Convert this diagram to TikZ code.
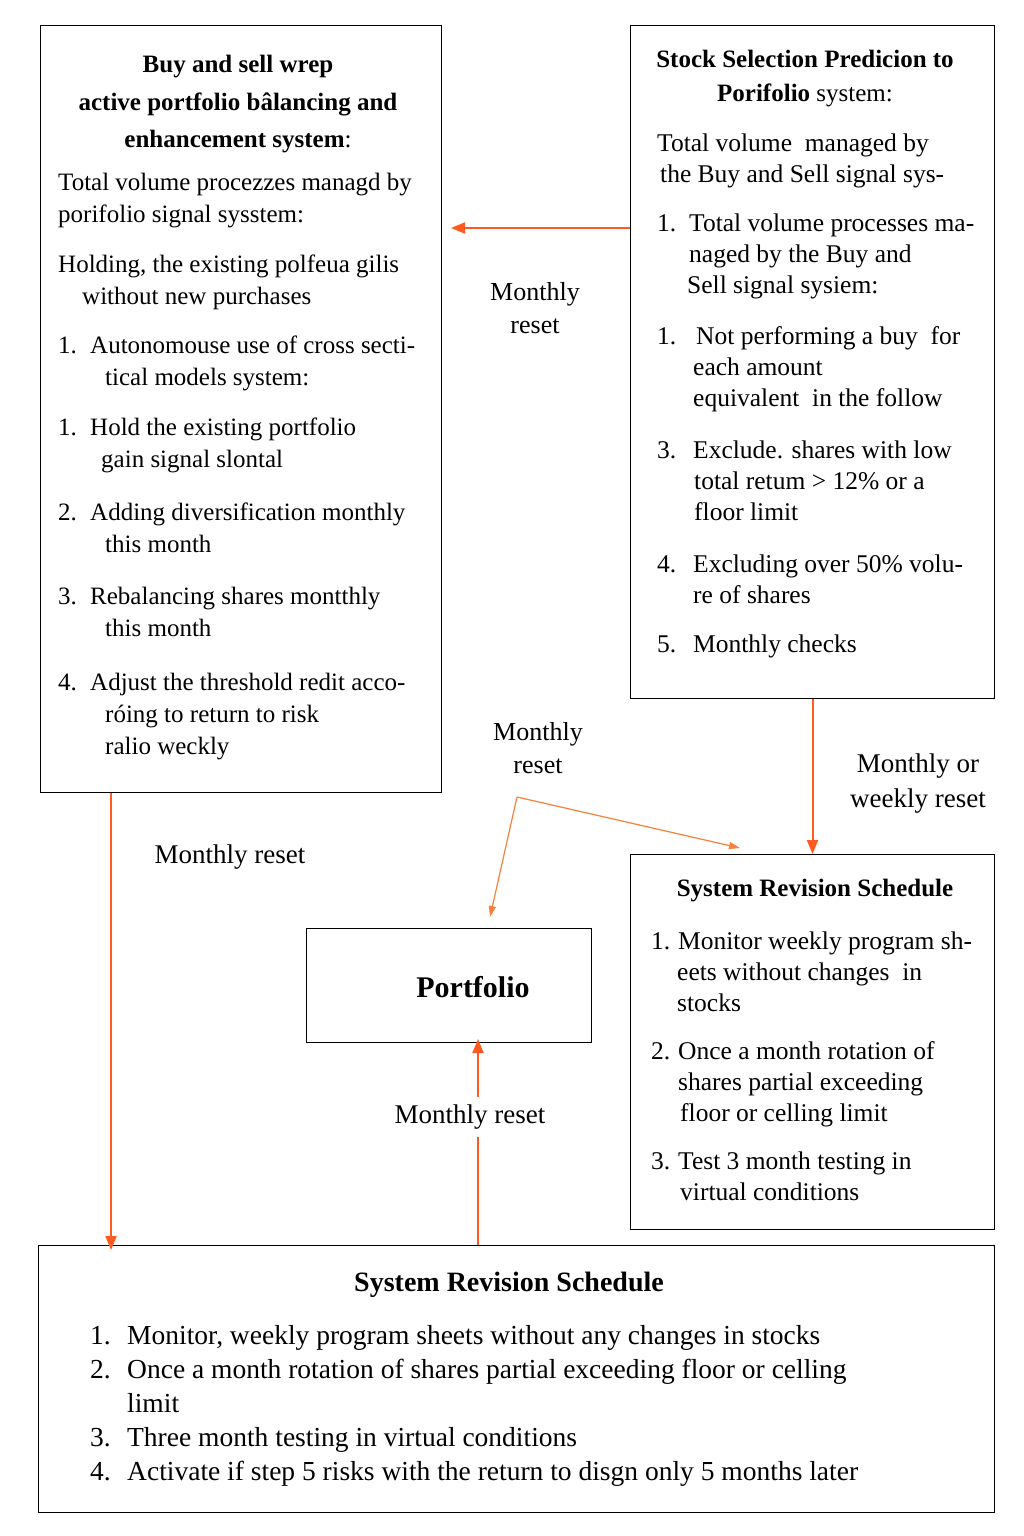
\documentclass[tikz,border=0pt]{standalone}
\usepackage{fontspec}
\setmainfont{Liberation Serif}
\usetikzlibrary{arrows.meta,positioning,calc}

\definecolor{flowred}{HTML}{FF5A1F}
\definecolor{floworange}{HTML}{F7803A}

\newcommand{\lnum}[2][32pt]{\makebox[#1][l]{#2}}
\newcommand{\hang}[1][32pt]{\hspace*{#1}}

\tikzset{
  box/.style={draw, line width=1pt, inner sep=0pt, anchor=north west},
  body/.style={anchor=north west, align=left, inner sep=0pt, font=\fontsize{25}{32}\selectfont},
  head/.style={anchor=north, align=center, inner sep=0pt, font=\bfseries\fontsize{25}{37.5}\selectfont},
  lbl/.style={align=center, inner sep=1pt, font=\fontsize{26}{33}\selectfont},
  flow/.style={draw=flowred, line width=2pt, -{Triangle[length=14pt,width=11pt]}},
  thinflow/.style={draw=floworange, line width=1.2pt, -{Triangle[length=11pt,width=7pt]}}
}

\begin{document}
\begin{tikzpicture}[x=1pt, y=-1pt]
\useasboundingbox[fill=white] (0,0) rectangle (1024,1536);

% boxes
\node[box, minimum width=401pt, minimum height=767pt] (lbox) at (40,25) {};
\node[box, minimum width=364pt, minimum height=673pt] (rtop) at (630,25) {};
\node[box, minimum width=364pt, minimum height=375pt] (rmid) at (630,854) {};
\node[box, minimum width=285pt, minimum height=114pt] (port) at (306,928) {};
\node[box, minimum width=956pt, minimum height=267pt] (bbox) at (38,1245) {};

% left box
\node[head] (lhead) at (238,55) {Buy and sell wrep\\active portfolio bâlancing and\\enhancement system\mdseries:};
\node[body] (ltext) at (58,173) {Total volume procezzes managd by\\
porifolio signal sysstem:\\[18pt]
Holding, the existing polfeua gilis\\
\hang[24pt]without new purchases\\[17pt]
\lnum{1.}Autonomouse use of cross secti-\\
\hang[47pt]tical models system:\\[18pt]
\lnum{1.}Hold the existing portfolio\\
\hang[43pt]gain signal slontal\\[21pt]
\lnum{2.}Adding diversification monthly\\
\hang[47pt]this month\\[20pt]
\lnum{3.}Rebalancing shares montthly\\
\hang[47pt]this month\\[22pt]
\lnum{4.}Adjust the threshold redit acco-\\
\hang[47pt]róing to return to risk\\
\hang[47pt]ralio weckly};

% right top box
\node[head, font=\bfseries\fontsize{25}{34}\selectfont] (rhead) at (805,50) {Stock Selection Predicion to\\Porifolio \mdseries system:};
\node[body, font=\fontsize{25.5}{31}\selectfont] (rtext) at (657,134) {Total volume\ \ managed by\\
\hang[3pt]the Buy and Sell signal sys-\\[18pt]
\lnum{1.}Total volume processes ma-\\
\hang naged by the Buy and\\
\hang[30pt]Sell signal sysiem:\\[20pt]
\lnum[39pt]{1.}Not performing a buy\ \ for\\
\hang[36pt]each amount\\
\hang[36pt]equivalent\ \ in the follow\\[21pt]
\lnum[36pt]{3.}Exclude. shares with low\\
\hang[37pt]total retum > 12\% or a\\
\hang[37pt]floor limit\\[21pt]
\lnum[36pt]{4.}Excluding over 50\% volu-\\
\hang[36pt]re of shares\\[18pt]
\lnum[36pt]{5.}Monthly checks};

% right middle box
\node[head, anchor=center] (mhead) at (815,891) {System Revision Schedule};
\node[body, font=\fontsize{25.5}{31}\selectfont] (mtext) at (651,932) {\lnum[27pt]{1.}Monitor weekly program sh-\\
\hang[26pt]eets without changes\ \ in\\
\hang[26pt]stocks\\[17pt]
\lnum[27pt]{2.}Once a month rotation of\\
\hang[27pt]shares partial exceeding\\
\hang[29pt]floor or celling limit\\[17pt]
\lnum[27pt]{3.}Test 3 month testing in\\
\hang[29pt]virtual conditions};

% portfolio
\node[font=\bfseries\fontsize{30}{34}\selectfont, inner sep=0pt] (portlbl) at (473,987) {Portfolio};

% bottom box
\node[head, anchor=center, font=\bfseries\fontsize{28}{34}\selectfont] (bhead) at (509,1285) {System Revision Schedule};
\node[body, font=\fontsize{27.5}{34}\selectfont] (btext) at (90,1325) {\lnum[37pt]{1.}Monitor, weekly program sheets without any changes in stocks\\
\lnum[37pt]{2.}Once a month rotation of shares partial exceeding floor or celling\\
\hang[37pt]limit\\
\lnum[37pt]{3.}Three month testing in virtual conditions\\
\lnum[37pt]{4.}Activate if step 5 risks with the return to disgn only 5 months later};

% connectors
\coordinate (lvl) at (0,228);
\coordinate (ldrop) at (111,0);
\coordinate (pdrop) at (478,0);
\coordinate (split) at (517,797);
\coordinate (tipa) at (740,848);
\coordinate (tipb) at (490,917);

\draw[flow] (rtop.west |- lvl) -- ([xshift=9pt]lbox.east |- lvl);
\draw[flow] (rtop.south) -- (rmid.north);
\draw[flow] (lbox.south -| ldrop) -- ([yshift=-5pt]bbox.north -| ldrop);
\draw[flow] (bbox.north -| pdrop) -- ([yshift=4pt]port.south -| pdrop);
\draw[thinflow] (split) -- (tipa);
\draw[thinflow] (split) -- (tipb);

% labels
\node[lbl] (lblA) at (535,308) {Monthly\\reset};
\node[lbl] (lblB) at (538,748) {Monthly\\reset};
\node[lbl, font=\fontsize{27}{35}\selectfont] (lblC) at (918,784) {Monthly or\\weekly reset};
\node[lbl, font=\fontsize{27}{33}\selectfont] (lblD) at (230,857) {Monthly reset};
\node[lbl, fill=white, inner ysep=8pt, font=\fontsize{27}{33}\selectfont] (lblE) at (470,1117) {Monthly reset};
\end{tikzpicture}
\end{document}
